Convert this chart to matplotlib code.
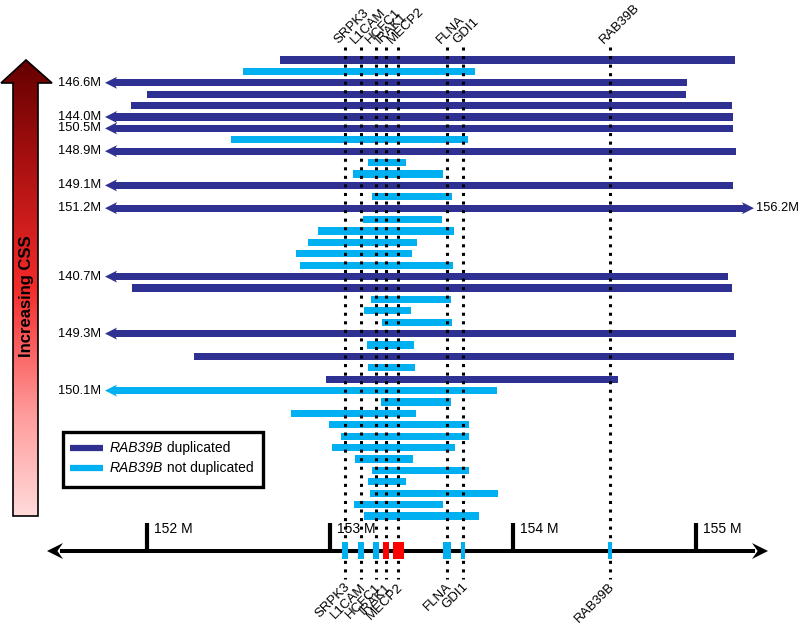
import matplotlib.pyplot as plt
import numpy as np
from matplotlib.patches import Polygon, Rectangle
from matplotlib.colors import LinearSegmentedColormap

plt.rcParams['font.family'] = ['Liberation Sans', 'DejaVu Sans']

DARK = '#2e3192'
LIGHT = '#00b0f0'

# CNV rows, top (highest CSS) to bottom, positions in Mb
cnv_start = [152.727, 152.525, 146.6, 152.000, 151.913, 144.0, 150.5, 152.459, 148.9, 153.208,
             153.126, 149.1, 153.230, 151.2, 153.180, 152.934, 152.880, 152.814, 152.836, 140.7,
             151.918, 153.224, 153.186, 153.284, 149.3, 153.202, 152.257, 153.208, 152.978, 150.1,
             153.279, 152.787, 152.995, 153.060, 153.011, 153.137, 153.230, 153.208, 153.219, 153.131,
             153.186]
cnv_end = [155.213, 153.792, 154.951, 154.945, 155.197, 155.202, 155.202, 153.754, 155.219, 153.415,
           153.617, 155.202, 153.667, 156.2, 153.612, 153.678, 153.475, 153.448, 153.672, 155.175,
           155.197, 153.661, 153.443, 153.667, 155.219, 153.459, 155.208, 153.464, 154.574, 153.913,
           153.661, 153.470, 153.760, 153.760, 153.683, 153.454, 153.760, 153.415, 153.918, 153.617,
           153.814]
rab39b_dup = [1, 0, 1, 1, 1, 1, 1, 0, 1, 0,
              0, 1, 0, 1, 0, 0, 0, 0, 0, 1,
              1, 0, 0, 0, 1, 0, 1, 0, 1, 0,
              0, 0, 0, 0, 0, 0, 0, 0, 0, 0,
              0]

genes = ['SRPK3', 'L1CAM', 'HCFC1', 'IRAK1', 'MECP2', 'FLNA', 'GDI1', 'RAB39B']
gene_pos = [153.082, 153.169, 153.251, 153.306, 153.372, 153.639, 153.727, 154.530]
gene_len = [0.033, 0.033, 0.033, 0.033, 0.060, 0.044, 0.025, 0.022]
gene_color = [LIGHT, LIGHT, LIGHT, 'red', 'red', LIGHT, LIGHT, LIGHT]

axis_ticks = [152, 153, 154, 155]
tick_labels = ['152 M', '153 M', '154 M', '155 M']


# layout helpers: pixel -> data (152 Mb sits at px 147, 183 px per Mb; rows 11.4 px apart from px 60)
def px_x(p):
    return 152 + (p - 147) / 183.0


def px_y(p):
    return (p - 60) / 11.4


fig = plt.figure(figsize=(8, 6.24), dpi=100)
ax = fig.add_axes([0, 0, 1, 1])
ax.set_xlim(px_x(0), px_x(800))
ax.set_ylim(px_y(624), px_y(0))
ax.axis('off')

tip_l = px_x(105)
tip_r = px_x(754)
head_len = 12 / 183.0
head_hw = 6 / 11.4
bar_h = 0.62

for i, (s, e, d) in enumerate(zip(cnv_start, cnv_end, rab39b_dup)):
    col = DARK if d else LIGHT
    left, right = s, e
    if s < tip_l:
        left = tip_l + 0.7 * head_len
        ax.add_patch(Polygon([(tip_l, i), (tip_l + head_len, i - head_hw),
                              (tip_l + 0.75 * head_len, i), (tip_l + head_len, i + head_hw)],
                             closed=True, color=col, lw=0, zorder=3))
        ax.annotate(f'{s}M', xy=(tip_l, i), xytext=(-4, 0), textcoords='offset pixels',
                    ha='right', va='center', fontsize=9.3)
    if e > tip_r:
        right = tip_r - 0.7 * head_len
        ax.add_patch(Polygon([(tip_r, i), (tip_r - head_len, i - head_hw),
                              (tip_r - 0.75 * head_len, i), (tip_r - head_len, i + head_hw)],
                             closed=True, color=col, lw=0, zorder=3))
        ax.annotate(f'{e}M', xy=(tip_r, i), xytext=(2, 0), textcoords='offset pixels',
                    ha='left', va='center', fontsize=9.3)
    ax.barh(i, right - left, left=left, height=bar_h, color=col, lw=0, zorder=3)

# dotted gene lines and labels
ax.vlines(gene_pos, px_y(47), px_y(579), colors='black', linewidth=2.2,
          linestyles=[(0, (1, 1.8))], zorder=4)
for g, x in zip(genes, gene_pos):
    ax.annotate(g, xy=(x, px_y(47)), xytext=(-4, 1), textcoords='offset pixels',
                ha='left', va='bottom', rotation=45, rotation_mode='anchor', fontsize=9.5)
    ax.annotate(g, xy=(x, px_y(579)), xytext=(-1, -2), textcoords='offset pixels',
                ha='right', va='top', rotation=45, rotation_mode='anchor', fontsize=9.5)

# chromosome axis
y_ax = px_y(551)
ax.plot([px_x(60), px_x(755)], [y_ax, y_ax], color='black', lw=2.9, solid_capstyle='butt', zorder=5)
for tip, sgn in [(px_x(47), 1), (px_x(768), -1)]:
    hl = sgn * 16 / 183.0
    hw = 8 / 11.4
    ax.add_patch(Polygon([(tip, y_ax), (tip + hl, y_ax - hw), (tip + 0.65 * hl, y_ax),
                          (tip + hl, y_ax + hw)], closed=True, color='black', lw=0, zorder=5))
ax.vlines(axis_ticks, px_y(523), y_ax, colors='black', lw=3, zorder=5)
for t, lab in zip(axis_ticks, tick_labels):
    ax.annotate(lab, xy=(t, px_y(529)), xytext=(7, 0), textcoords='offset pixels',
                ha='left', va='center', fontsize=10)
ax.bar(gene_pos, px_y(559) - px_y(542), width=gene_len, bottom=px_y(542),
       color=gene_color, lw=0, zorder=6)

# overlay in pixel coordinates for the CSS arrow and the legend
ov = fig.add_axes([0, 0, 1, 1])
ov.set_xlim(0, 800)
ov.set_ylim(624, 0)
ov.axis('off')
ov.patch.set_alpha(0)

arrow_pts = [(13, 516), (38, 516), (38, 83), (52, 83), (26, 60), (1, 83), (13, 83)]
cmap = LinearSegmentedColormap.from_list(
    'css', [(0, '#650000'), (0.22, '#a81010'), (0.5, '#f52a2a'), (0.78, '#ff9c9c'), (1, '#ffdada')])
grad = np.linspace(0, 1, 256).reshape(-1, 1)
im = ov.imshow(grad, cmap=cmap, extent=(0, 55, 516, 60), aspect='auto', zorder=2)
clip = Polygon(arrow_pts, closed=True, transform=ov.transData)
im.set_clip_path(clip)
ov.add_patch(Polygon(arrow_pts, closed=True, fill=False, ec='black', lw=1.2, zorder=3))
ov.text(26, 296, 'Increasing CSS', rotation=90, ha='center', va='center',
        fontsize=12, fontweight='bold', zorder=4)

ov.add_patch(Rectangle((63, 432), 200, 55, fc='white', ec='black', lw=2.4, zorder=5))
for yy, col, word in [(448, DARK, ' duplicated'), (468, LIGHT, ' not duplicated')]:
    ov.plot([70, 103], [yy, yy], color=col, lw=4.5, solid_capstyle='butt', zorder=6)
    t = ov.text(110, yy, 'RAB39B', style='italic', ha='left', va='center', fontsize=10, zorder=6)
    ov.annotate(word, xy=(1, 0.5), xycoords=t, ha='left', va='center', fontsize=10, zorder=6)

fig.savefig('out.png', dpi=100)
